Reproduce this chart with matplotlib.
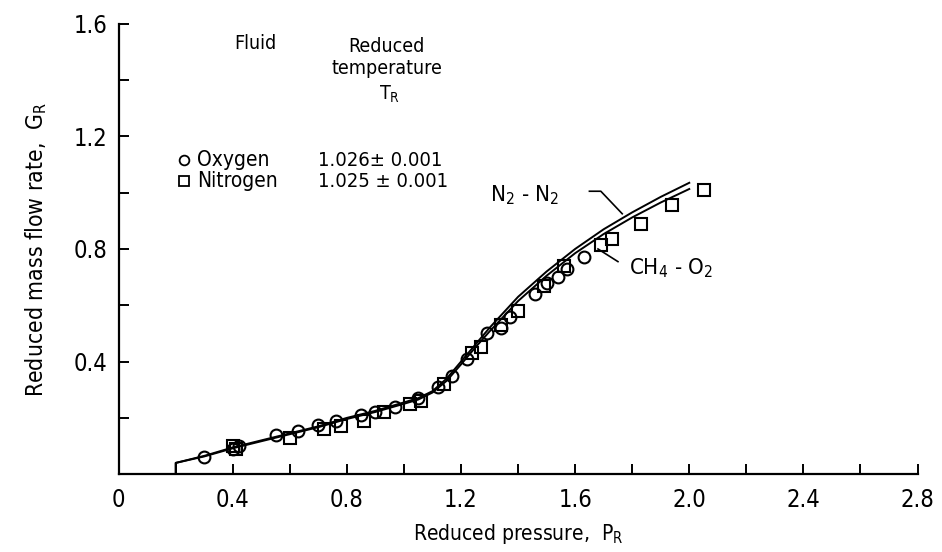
import matplotlib.pyplot as plt
from matplotlib.ticker import MultipleLocator

plt.rcParams['font.family'] = ['DejaVu Sans']
plt.rcParams['font.stretch'] = 'condensed'

# Correlation curves (reduced pressure vs reduced mass flow rate)
p_curve = [0.2, 0.2, 0.3, 0.4, 0.5, 0.6, 0.7, 0.8, 0.9, 1.0, 1.05, 1.1, 1.15,
           1.2, 1.25, 1.3, 1.4, 1.5, 1.6, 1.7, 1.8, 1.9, 2.0]
g_n2 = [0.0, 0.04, 0.065, 0.095, 0.12, 0.145, 0.17, 0.2, 0.225, 0.255, 0.27,
        0.295, 0.34, 0.40, 0.46, 0.52, 0.63, 0.72, 0.80, 0.87, 0.93,
        0.985, 1.035]
g_ch4 = [0.0, 0.04, 0.063, 0.092, 0.117, 0.142, 0.167, 0.196, 0.221, 0.25,
         0.265, 0.29, 0.332, 0.39, 0.45, 0.507, 0.615, 0.705, 0.785, 0.853, 0.912,
         0.965, 1.013]

# Oxygen data
p_oxy = [0.30, 0.40, 0.42, 0.55, 0.63, 0.70, 0.76, 0.85, 0.90, 0.97, 1.05,
         1.12, 1.17, 1.22, 1.29, 1.34, 1.37, 1.46, 1.50, 1.54, 1.57, 1.63]
g_oxy = [0.06, 0.09, 0.10, 0.14, 0.155, 0.175, 0.19, 0.21, 0.22, 0.24, 0.27,
         0.31, 0.35, 0.41, 0.50, 0.52, 0.56, 0.64, 0.68, 0.70, 0.73, 0.77]

# Nitrogen data
p_nit = [0.40, 0.41, 0.60, 0.72, 0.78, 0.86, 0.93, 1.02, 1.06, 1.14, 1.24,
         1.27, 1.34, 1.40, 1.49, 1.56, 1.69, 1.73, 1.83, 1.94, 2.05]
g_nit = [0.10, 0.09, 0.13, 0.16, 0.17, 0.19, 0.22, 0.25, 0.26, 0.32, 0.43,
         0.45, 0.53, 0.58, 0.67, 0.74, 0.815, 0.835, 0.89, 0.957, 1.01]

fig = plt.figure(figsize=(9.42, 5.52), dpi=100)
ax = fig.add_axes([0.126, 0.141, 0.848, 0.816])

ax.plot(p_curve, g_n2, color='black', lw=1.4)
ax.plot(p_curve, g_ch4, color='black', lw=1.4)
ax.plot(p_oxy, g_oxy, 'o', mfc='none', mec='black', ms=8.5, mew=1.5)
ax.plot(p_nit, g_nit, 's', mfc='none', mec='black', ms=8.5, mew=1.5)

ax.set_xlim(0, 2.8)
ax.set_ylim(0, 1.6)
ax.spines['top'].set_visible(False)
ax.spines['right'].set_visible(False)
ax.spines['left'].set_linewidth(1.6)
ax.spines['bottom'].set_linewidth(1.6)

ax.xaxis.set_major_locator(MultipleLocator(0.4))
ax.xaxis.set_minor_locator(MultipleLocator(0.2))
ax.yaxis.set_major_locator(MultipleLocator(0.4))
ax.yaxis.set_minor_locator(MultipleLocator(0.2))
ax.tick_params(which='both', direction='in', length=7, width=1.4, labelsize=17)
ax.set_xticks([0, 0.4, 0.8, 1.2, 1.6, 2.0, 2.4, 2.8])
ax.set_xticklabels(['0', '0.4', '0.8', '1.2', '1.6', '2.0', '2.4', '2.8'])
ax.set_yticks([0.4, 0.8, 1.2, 1.6])
ax.set_yticklabels(['0.4', '0.8', '1.2', '1.6'])
ax.tick_params(axis='x', pad=10)
ax.tick_params(axis='y', pad=8)

ax.set_xlabel('Reduced pressure,  $\\mathregular{P_R}$', fontsize=15, labelpad=7)
ax.set_ylabel('Reduced mass flow rate,  $\\mathregular{G_R}$', fontsize=16.5, labelpad=18)

# legend table
ax.text(0.48, 1.53, 'Fluid', fontsize=14, ha='center', va='center')
ax.text(0.94, 1.52, 'Reduced', fontsize=14, ha='center', va='center')
ax.text(0.94, 1.44, 'temperature', fontsize=14, ha='center', va='center')
ax.text(0.95, 1.35, '$\\mathregular{T_R}$', fontsize=14, ha='center', va='center')
ax.plot([0.23], [1.115], 'o', mfc='none', mec='black', ms=7, mew=1.3)
ax.plot([0.23], [1.04], 's', mfc='none', mec='black', ms=7, mew=1.3)
ax.text(0.275, 1.115, 'Oxygen', fontsize=15, va='center')
ax.text(0.275, 1.04, 'Nitrogen', fontsize=15, va='center')
ax.text(0.70, 1.115, '1.026\u00b1 0.001', fontsize=14.5, va='center')
ax.text(0.70, 1.04, '1.025 \u00b1 0.001', fontsize=14.5, va='center')

# curve labels
ax.text(1.30, 0.99, 'N$\\mathregular{_2}$ - N$\\mathregular{_2}$', fontsize=16, va='center')
ax.plot([1.65, 1.69, 1.765], [1.005, 1.005, 0.925], color='black', lw=1.2)
ax.text(1.79, 0.73, 'CH$\\mathregular{_4}$ - O$\\mathregular{_2}$', fontsize=16, va='center')
ax.plot([1.75, 1.68], [0.755, 0.80], color='black', lw=1.2)

fig.savefig('out.png', dpi=100)
